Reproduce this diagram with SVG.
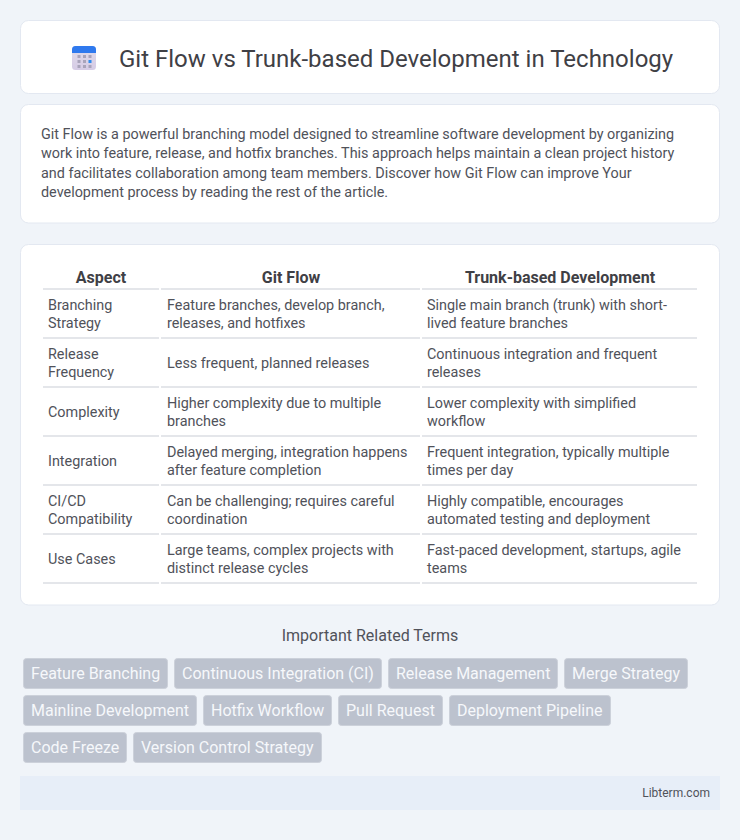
<svg xmlns="http://www.w3.org/2000/svg" width="740" height="840" viewBox="0 0 740 840">
<style>
text{font-family:Roboto,"Liberation Sans",sans-serif}
.card{fill:#fff;stroke:#e3e8f1;stroke-width:1}
.title{font-size:24px;fill:#3f4045}
.body{font-size:14.4px;fill:#50525a}
.th{font-size:16px;font-weight:700;fill:#3f4045;text-anchor:middle}
.td{font-size:14.4px;fill:#50525a}
.rule{fill:#e4e6ea}
.tag rect{fill:#bcc2ce;stroke:#ccd1da;stroke-width:1}
.tag text{font-size:16px;fill:#f6f8fb}
.sub{font-size:16px;fill:#50525a;text-anchor:middle}
.foot{font-size:12px;fill:#50525a;text-anchor:end}
</style>
<defs><linearGradient id="ib" x1="0" y1="0" x2="0" y2="1"><stop offset="0" stop-color="#e2dcea"/><stop offset="1" stop-color="#d6cce6"/></linearGradient></defs>
<rect width="740" height="840" fill="#f0f4f9"/>
<g id="header">
<rect class="card" x="20.5" y="20.5" width="699" height="73" rx="8"/>
<g id="icon">
<rect x="72" y="46" width="24" height="24" rx="3.5" fill="url(#ib)"/>
<path d="M72 53V49.5A3.5 3.5 0 0 1 75.500 46H92.500A3.500 3.500 0 0 1 96 49.500V53Z" fill="#2f79ee"/>
<g fill="#a9a4bb"><rect x="77.500" y="55" width="3" height="3"/><rect x="83" y="55" width="3" height="3"/><rect x="88.500" y="55" width="3" height="3"/><rect x="77.500" y="60" width="3" height="3"/><rect x="83" y="60" width="3" height="3"/><rect x="77.500" y="65" width="3" height="3"/><rect x="83" y="65" width="3" height="3"/><rect x="88.500" y="65" width="3" height="3"/></g>
<rect x="88.500" y="60" width="3" height="3" fill="#2f8cf0"/>
</g>
<text class="title" x="119" y="67">Git Flow vs Trunk-based Development in Technology</text>
</g>
<g id="intro">
<rect class="card" x="20.5" y="104.500" width="699" height="118.500" rx="8"/>
<text class="body" x="41" y="139">Git Flow is a powerful branching model designed to streamline software development by organizing</text>
<text class="body" x="41" y="158">work into feature, release, and hotfix branches. This approach helps maintain a clean project history</text>
<text class="body" x="41" y="178">and facilitates collaboration among team members. Discover how Git Flow can improve Your</text>
<text class="body" x="41" y="197">development process by reading the rest of the article.</text>
</g>
<g id="table">
<rect class="card" x="20.5" y="244.500" width="699" height="360.500" rx="8"/>
<text class="th" x="101" y="283">Aspect</text><text class="th" x="291" y="283">Git Flow</text><text class="th" x="560" y="283">Trunk-based Development</text>
<g id="rules">
<rect class="rule" x="43" y="288" width="116" height="2"/><rect class="rule" x="161" y="288" width="259" height="2"/><rect class="rule" x="422" y="288" width="275" height="2"/>
<rect class="rule" x="43" y="337" width="116" height="2"/><rect class="rule" x="161" y="337" width="259" height="2"/><rect class="rule" x="422" y="337" width="275" height="2"/>
<rect class="rule" x="43" y="386" width="116" height="2"/><rect class="rule" x="161" y="386" width="259" height="2"/><rect class="rule" x="422" y="386" width="275" height="2"/>
<rect class="rule" x="43" y="435" width="116" height="2"/><rect class="rule" x="161" y="435" width="259" height="2"/><rect class="rule" x="422" y="435" width="275" height="2"/>
<rect class="rule" x="43" y="484" width="116" height="2"/><rect class="rule" x="161" y="484" width="259" height="2"/><rect class="rule" x="422" y="484" width="275" height="2"/>
<rect class="rule" x="43" y="533" width="116" height="2"/><rect class="rule" x="161" y="533" width="259" height="2"/><rect class="rule" x="422" y="533" width="275" height="2"/>
<rect class="rule" x="43" y="582" width="116" height="2"/><rect class="rule" x="161" y="582" width="259" height="2"/><rect class="rule" x="422" y="582" width="275" height="2"/>
</g>
<text class="td" x="48" y="310">Branching</text><text class="td" x="48" y="328">Strategy</text>
<text class="td" x="167" y="310">Feature branches, develop branch,</text><text class="td" x="167" y="328">releases, and hotfixes</text>
<text class="td" x="427" y="310">Single main branch (trunk) with short-</text><text class="td" x="427" y="328">lived feature branches</text>
<text class="td" x="48" y="359">Release</text><text class="td" x="48" y="377">Frequency</text>
<text class="td" x="167" y="368">Less frequent, planned releases</text>
<text class="td" x="427" y="359">Continuous integration and frequent</text><text class="td" x="427" y="377">releases</text>
<text class="td" x="48" y="417">Complexity</text>
<text class="td" x="167" y="408">Higher complexity due to multiple</text><text class="td" x="167" y="426">branches</text>
<text class="td" x="427" y="408">Lower complexity with simplified</text><text class="td" x="427" y="426">workflow</text>
<text class="td" x="48" y="466">Integration</text>
<text class="td" x="167" y="457">Delayed merging, integration happens</text><text class="td" x="167" y="475">after feature completion</text>
<text class="td" x="427" y="457">Frequent integration, typically multiple</text><text class="td" x="427" y="475">times per day</text>
<text class="td" x="48" y="506">CI/CD</text><text class="td" x="48" y="524">Compatibility</text>
<text class="td" x="167" y="506">Can be challenging; requires careful</text><text class="td" x="167" y="524">coordination</text>
<text class="td" x="427" y="506">Highly compatible, encourages</text><text class="td" x="427" y="524">automated testing and deployment</text>
<text class="td" x="48" y="564">Use Cases</text>
<text class="td" x="167" y="555">Large teams, complex projects with</text><text class="td" x="167" y="573">distinct release cycles</text>
<text class="td" x="427" y="555">Fast-paced development, startups, agile</text><text class="td" x="427" y="573">teams</text>
</g>
<text class="sub" x="370" y="641">Important Related Terms</text>
<g id="tags">
<g id="tag1" class="tag"><rect x="23.500" y="658.500" width="144" height="30" rx="3"/><text x="31" y="679">Feature Branching</text></g>
<g id="tag2" class="tag"><rect x="174.500" y="658.500" width="207" height="30" rx="3"/><text x="182" y="679">Continuous Integration (CI)</text></g>
<g id="tag3" class="tag"><rect x="388.500" y="658.500" width="169" height="30" rx="3"/><text x="396" y="679">Release Management</text></g>
<g id="tag4" class="tag"><rect x="564.500" y="658.500" width="123" height="30" rx="3"/><text x="572" y="679">Merge Strategy</text></g>
<g id="tag5" class="tag"><rect x="23.500" y="695.500" width="173" height="30" rx="3"/><text x="31" y="716">Mainline Development</text></g>
<g id="tag6" class="tag"><rect x="203.500" y="695.500" width="128" height="30" rx="3"/><text x="211" y="716">Hotfix Workflow</text></g>
<g id="tag7" class="tag"><rect x="338.500" y="695.500" width="104" height="30" rx="3"/><text x="346" y="716">Pull Request</text></g>
<g id="tag8" class="tag"><rect x="449.500" y="695.500" width="161" height="30" rx="3"/><text x="457" y="716">Deployment Pipeline</text></g>
<g id="tag9" class="tag"><rect x="23.500" y="732.500" width="103" height="30" rx="3"/><text x="31" y="753">Code Freeze</text></g>
<g id="tag10" class="tag"><rect x="133.500" y="732.500" width="188" height="30" rx="3"/><text x="141" y="753">Version Control Strategy</text></g>
</g>
<g id="footer">
<rect x="20" y="776" width="700" height="34" fill="#e7eef8"/>
<text class="foot" x="710" y="797">Libterm.com</text>
</g>
</svg>
